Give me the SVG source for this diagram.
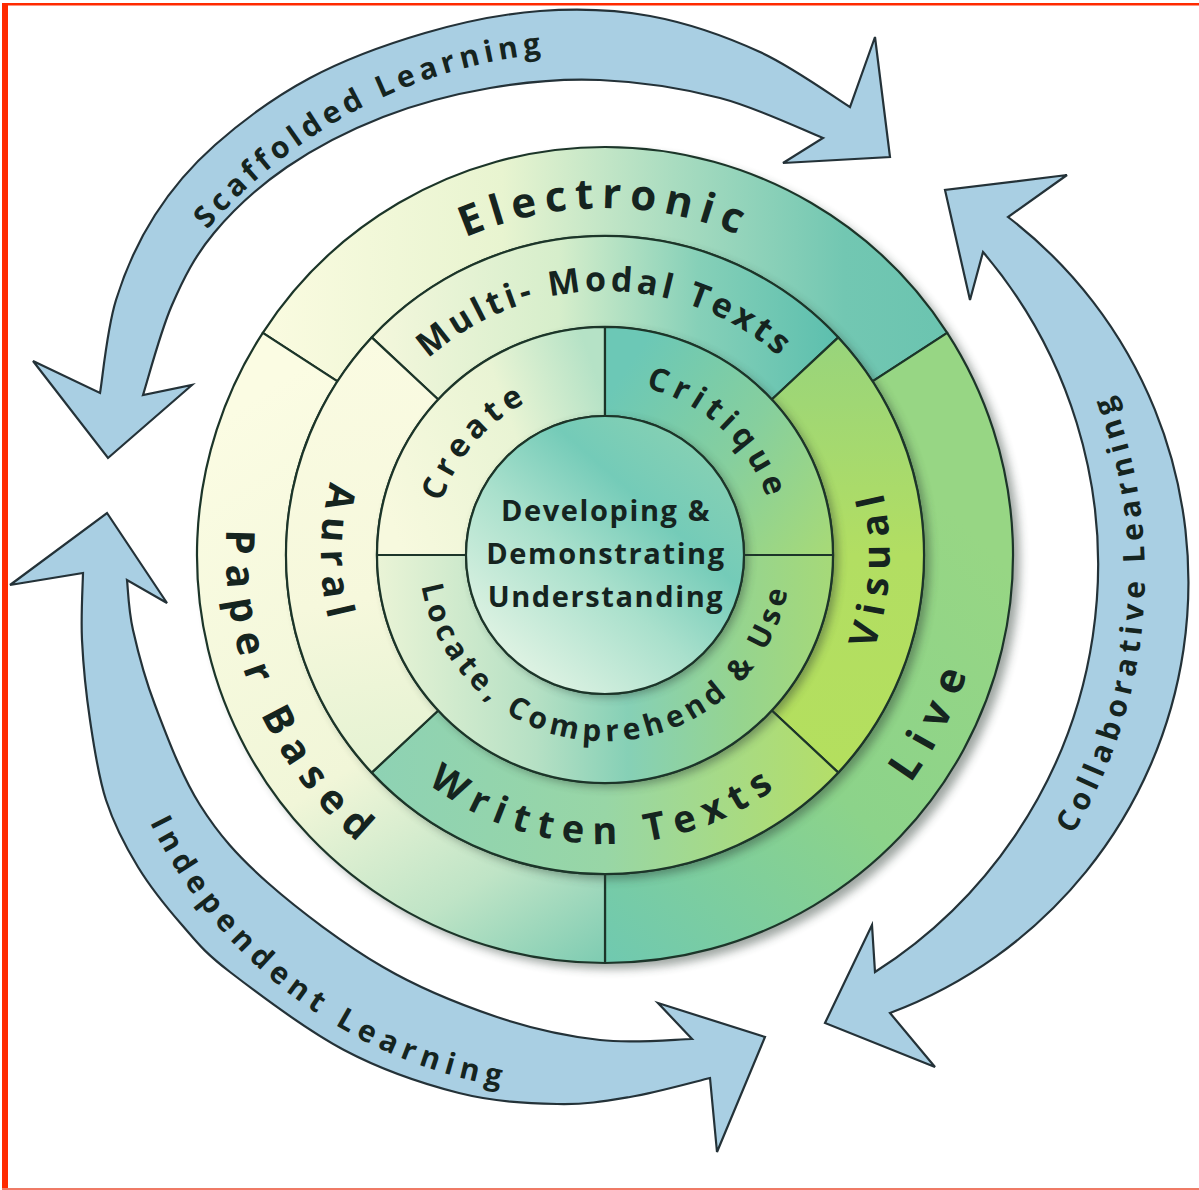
<svg xmlns="http://www.w3.org/2000/svg" width="1199" height="1190" viewBox="0 0 1199 1190">
<style>
.t{font-family:'Open Sans','DejaVu Sans',sans-serif;font-weight:700;fill:#15241f}
.sec{stroke:#1c3529;stroke-width:2.2;stroke-linejoin:round}
.arrow{fill:#a9cfe3;stroke:#243238;stroke-width:2.2;stroke-linejoin:miter}
.shadow{fill:#2a3a30;opacity:.45}
</style>
<defs>
<filter id="blur" x="-20%" y="-20%" width="140%" height="140%"><feGaussianBlur stdDeviation="5"/></filter>
<linearGradient id="gElec" gradientUnits="userSpaceOnUse" x1="263" y1="300" x2="947" y2="300">
<stop offset="0" stop-color="#fafbe0"/><stop offset="0.35" stop-color="#e8f4d0"/><stop offset="0.6" stop-color="#a9dcc0"/><stop offset="0.85" stop-color="#72c7b2"/><stop offset="1" stop-color="#6bc4b0"/></linearGradient>
<linearGradient id="gPaper" gradientUnits="userSpaceOnUse" x1="250" y1="400" x2="605" y2="960">
<stop offset="0" stop-color="#fbfce3"/><stop offset="0.55" stop-color="#f1f6d8"/><stop offset="0.8" stop-color="#bfe4c6"/><stop offset="1" stop-color="#7fccb2"/></linearGradient>
<linearGradient id="gLive" gradientUnits="userSpaceOnUse" x1="605" y1="960" x2="1000" y2="560">
<stop offset="0" stop-color="#70c9b0"/><stop offset="0.5" stop-color="#8cd38a"/><stop offset="1" stop-color="#97d684"/></linearGradient>
<linearGradient id="gMulti" gradientUnits="userSpaceOnUse" x1="372" y1="300" x2="838" y2="300">
<stop offset="0" stop-color="#f4f7dc"/><stop offset="0.4" stop-color="#d6eecb"/><stop offset="0.7" stop-color="#86d0b8"/><stop offset="1" stop-color="#5cbfae"/></linearGradient>
<linearGradient id="gVisual" gradientUnits="userSpaceOnUse" x1="800" y1="337" x2="800" y2="773">
<stop offset="0" stop-color="#98d47c"/><stop offset="0.5" stop-color="#b2de62"/><stop offset="1" stop-color="#b4df5e"/></linearGradient>
<linearGradient id="gWritten" gradientUnits="userSpaceOnUse" x1="372" y1="800" x2="838" y2="800">
<stop offset="0" stop-color="#8ed2b4"/><stop offset="0.5" stop-color="#98d6a6"/><stop offset="1" stop-color="#b4de68"/></linearGradient>
<linearGradient id="gAural" gradientUnits="userSpaceOnUse" x1="330" y1="340" x2="400" y2="770">
<stop offset="0" stop-color="#fafbe2"/><stop offset="0.6" stop-color="#f6f8dc"/><stop offset="1" stop-color="#e4f2d2"/></linearGradient>
<linearGradient id="gCreate" gradientUnits="userSpaceOnUse" x1="377" y1="480" x2="605" y2="400">
<stop offset="0" stop-color="#f7f9de"/><stop offset="0.6" stop-color="#e9f4d4"/><stop offset="1" stop-color="#b5e2c6"/></linearGradient>
<linearGradient id="gCrit" gradientUnits="userSpaceOnUse" x1="605" y1="400" x2="833" y2="555">
<stop offset="0" stop-color="#6cc8b6"/><stop offset="0.5" stop-color="#86cf9e"/><stop offset="1" stop-color="#a8da76"/></linearGradient>
<linearGradient id="gLoc" gradientUnits="userSpaceOnUse" x1="377" y1="650" x2="833" y2="650">
<stop offset="0" stop-color="#eaf4d6"/><stop offset="0.35" stop-color="#b5e0c4"/><stop offset="0.55" stop-color="#86d0b6"/><stop offset="0.8" stop-color="#96d48e"/><stop offset="1" stop-color="#a6d978"/></linearGradient>
<linearGradient id="gCenter" x1="0.1" y1="0.9" x2="0.8" y2="0.1">
<stop offset="0" stop-color="#e6f5e6"/><stop offset="0.45" stop-color="#a9e0cc"/><stop offset="0.75" stop-color="#74cbb8"/><stop offset="1" stop-color="#84d0b4"/></linearGradient>
<path id="pElec" d="M263.3,494.8 A347,347 0 0 1 946.7,494.8"/>
<path id="pMulti" d="M345,509.2 A264,264 0 0 1 865,509.2"/>
<path id="pCreate" d="M481.3,674.5 A172,172 0 0 1 706.1,415.9"/>
<path id="pCrit" d="M489.9,427.2 A172,172 0 0 1 740.5,660.9"/>
<path id="pLoc" d="M419.1,561.5 A186,186 0 0 0 790.9,561.5"/>
<path id="pAural" d="M555.7,275.3 A284,284 0 0 0 555.7,834.7"/>
<path id="pVisual" d="M642.2,837.5 A285,285 0 0 0 666.7,276.8"/>
<path id="pWritten" d="M320.4,605.2 A289,289 0 0 0 889.6,605.2"/>
<path id="pPaper" d="M395.8,238.9 A379,379 0 0 0 693.5,923.5"/>
<path id="pLive" d="M496.8,920.3 A381,381 0 0 0 831.6,248.7"/>
<path id="pScaf" d="M107.7,717 A512,512 0 0 1 1002.2,251.3"/>
<path id="pInd" d="M152.8,398.1 A480,480 0 0 0 911.9,961.8"/>
<path id="pColl" d="M687.6,1075.9 A503,503 0 0 0 770.5,88.7"/>
</defs>
<rect width="1199" height="1190" fill="#ffffff"/>
<rect x="2" y="3" width="6" height="1187" fill="#ff2a00"/>
<rect x="2" y="3" width="1197" height="2.5" fill="#ff2a00"/>
<rect x="2" y="1188" width="1197" height="2" fill="#ef7a66"/>

<g id="connectors">
<path id="arrow-scaffolded" class="arrow" d="M100,393 C102.7,377.5 106.8,329.7 116,300 C125.2,270.3 138.5,240.8 155,215 C171.5,189.2 189.2,167.8 215,145 C240.8,122.2 275,96.7 310,78 C345,59.3 386.7,44.2 425,33 C463.3,21.8 502.5,13.8 540,11 C577.5,8.2 613.3,9.2 650,16 C686.7,22.8 726.7,36.8 760,52 C793.3,67.2 835,97.8 850,107 L875,37 L890,157 L783,163 L823,138 C805.8,131.3 757.2,107.7 720,98 C682.8,88.3 638.3,81.7 600,80 C561.7,78.3 526.2,81.8 490,88 C453.8,94.2 416.8,103.8 383,117 C349.2,130.2 315.2,147.7 287,167 C258.8,186.3 233.2,210 214,233 C194.8,256 183.8,278 172,305 C160.2,332 147.8,380 143,395 L192,385 L108,458 L33,361 Z"/>
<path id="arrow-independent" class="arrow" d="M83,573 C82.8,584.2 80.8,615.5 82,640 C83.2,664.5 86,693.3 90,720 C94,746.7 98,775.5 106,800 C114,824.5 125.3,846.2 138,867 C150.7,887.8 166.7,907.5 182,925 C197.3,942.5 203,951.2 230,972 C257,992.8 305.8,1029.8 344,1050 C382.2,1070.2 423.5,1084 459,1093 C494.5,1102 528.5,1103.3 557,1104 C585.5,1104.7 604.5,1101.3 630,1097 C655.5,1092.7 696.7,1081.2 710,1078 L717,1152 L765,1037 L658,1003 L692,1039 C676.7,1039.2 632.5,1043.7 600,1040 C567.5,1036.3 533.2,1029.2 497,1017 C460.8,1004.8 421.2,989.3 383,967 C344.8,944.7 298.5,910 268,883 C237.5,856 218.8,834.7 200,805 C181.2,775.3 166.2,734.2 155,705 C143.8,675.8 137.7,650.8 133,630 C128.3,609.2 128,588.3 127,580 L167,603 L107,513 L10,585 Z"/>
<path id="arrow-collaborative" class="arrow" d="M1008,217 A460,460 0 0 1 890,1013 L935,1067 L825,1023 L872,925 L875,972 A483,483 0 0 0 983,252 L970,300 L945,190 L1067,175 Z"/>
<text class="t" font-size="30" letter-spacing="5"><textPath href="#pScaf" startOffset="50%" text-anchor="middle">Scaffolded Learning</textPath></text>
<text class="t" font-size="30" letter-spacing="6.5"><textPath href="#pInd" startOffset="50%" text-anchor="middle">Independent Learning</textPath></text>
<text class="t" font-size="30" letter-spacing="5.5"><textPath href="#pColl" startOffset="50%" text-anchor="middle">Collaborative Learning</textPath></text>
</g>

<circle class="shadow" cx="612" cy="561" r="408" filter="url(#blur)"/>
<g id="electronic"><path class="sec" fill="url(#gElec)" d="M262.8,332.8 A408,408 0 0 1 947.2,332.8 L872.5,381.3 A319,319 0 0 0 337.5,381.3 Z"/>
<text class="t" font-size="42" letter-spacing="8"><textPath href="#pElec" startOffset="50%" text-anchor="middle">Electronic</textPath></text></g>
<g id="live"><path class="sec" fill="url(#gLive)" d="M947.2,332.8 A408,408 0 0 1 605,963 L605,874 A319,319 0 0 0 872.5,381.3 Z"/>
<text class="t" font-size="42" letter-spacing="13"><textPath href="#pLive" startOffset="50%" text-anchor="middle">Live</textPath></text></g>
<g id="paper-based"><path class="sec" fill="url(#gPaper)" d="M605,963 A408,408 0 0 1 262.8,332.8 L337.5,381.3 A319,319 0 0 0 605,874 Z"/>
<text class="t" font-size="40" letter-spacing="10.5"><textPath href="#pPaper" startOffset="50%" text-anchor="middle">Paper Based</textPath></text></g>

<circle class="shadow" cx="611" cy="560" r="319" filter="url(#blur)"/>
<g id="multi-modal-texts"><path class="sec" fill="url(#gMulti)" d="M371.7,337.4 A319,319 0 0 1 838.3,337.4 L771.8,399.5 A228,228 0 0 0 438.2,399.5 Z"/>
<text class="t" font-size="34" letter-spacing="4"><textPath href="#pMulti" startOffset="50%" text-anchor="middle">Multi- Modal Texts</textPath></text></g>
<g id="visual"><path class="sec" fill="url(#gVisual)" d="M838.3,337.4 A319,319 0 0 1 838.3,772.6 L771.8,710.5 A228,228 0 0 0 771.8,399.5 Z"/>
<text class="t" font-size="38" letter-spacing="9"><textPath href="#pVisual" startOffset="50%" text-anchor="middle">Visual</textPath></text></g>
<g id="written-texts"><path class="sec" fill="url(#gWritten)" d="M838.3,772.6 A319,319 0 0 1 371.7,772.6 L438.2,710.5 A228,228 0 0 0 771.8,710.5 Z"/>
<text class="t" font-size="38" letter-spacing="9.5"><textPath href="#pWritten" startOffset="50%" text-anchor="middle">Written Texts</textPath></text></g>
<g id="aural"><path class="sec" fill="url(#gAural)" d="M371.7,772.6 A319,319 0 0 1 371.7,337.4 L438.2,399.5 A228,228 0 0 0 438.2,710.5 Z"/>
<text class="t" font-size="38" letter-spacing="9"><textPath href="#pAural" startOffset="50%" text-anchor="middle">Aural</textPath></text></g>

<circle class="shadow" cx="610" cy="559" r="228" filter="url(#blur)"/>
<g id="create"><path class="sec" fill="url(#gCreate)" d="M377,555 A228,228 0 0 1 605,327 L605,416 A139,139 0 0 0 466,555 Z"/>
<text class="t" font-size="32" letter-spacing="5.5"><textPath href="#pCreate" startOffset="50%" text-anchor="middle">Create</textPath></text></g>
<g id="critique"><path class="sec" fill="url(#gCrit)" d="M605,327 A228,228 0 0 1 833,555 L744,555 A139,139 0 0 0 605,416 Z"/>
<text class="t" font-size="32" letter-spacing="6"><textPath href="#pCrit" startOffset="50%" text-anchor="middle">Critique</textPath></text></g>
<g id="locate-comprehend-use"><path class="sec" fill="url(#gLoc)" d="M833,555 A228,228 0 0 1 377,555 L466,555 A139,139 0 0 0 744,555 Z"/>
<text class="t" font-size="30" letter-spacing="5"><textPath href="#pLoc" startOffset="50%" text-anchor="middle">Locate, Comprehend &amp; Use</textPath></text></g>

<circle class="shadow" cx="609" cy="558" r="139" filter="url(#blur)"/>
<g id="center"><circle class="sec" cx="605" cy="555" r="139" fill="url(#gCenter)"/>
<text class="t" font-size="29" letter-spacing="1.6" text-anchor="middle"><tspan x="606" y="521">Developing &amp;</tspan><tspan x="606" y="564">Demonstrating</tspan><tspan x="606" y="607">Understanding</tspan></text></g>
</svg>
